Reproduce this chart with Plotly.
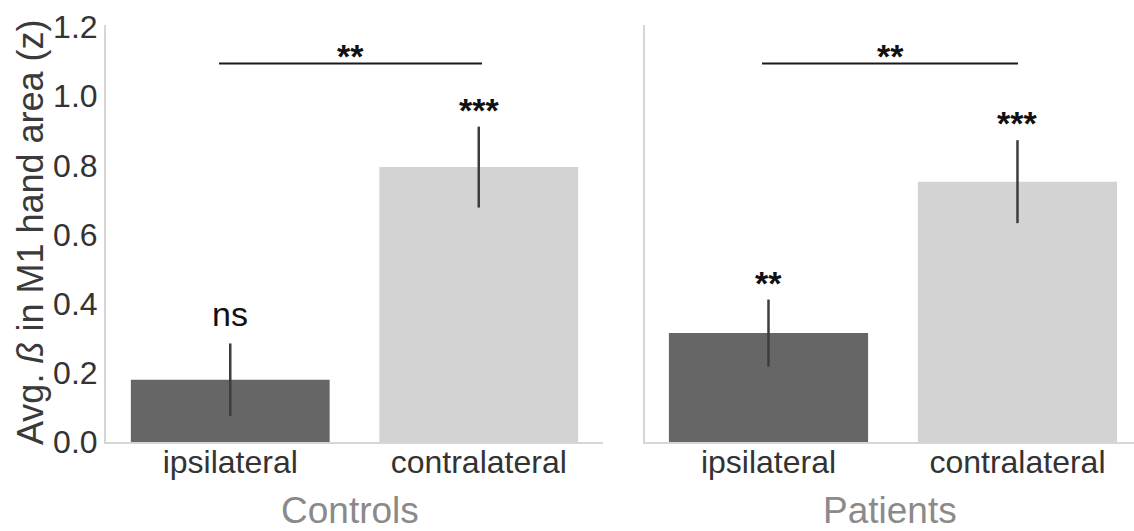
import plotly.graph_objects as go

# ---- data ----
categories = ["ipsilateral", "contralateral"]
groups = ["Controls", "Patients"]
controls_mean = [0.18, 0.795]
controls_err = [0.105, 0.117]
patients_mean = [0.315, 0.753]
patients_err = [0.097, 0.12]
controls_sig = ["ns", "***"]
patients_sig = ["**", "***"]
bracket_labels = ["**", "**"]
bracket_levels = [1.095, 1.095]
y_tickvals = [0.0, 0.2, 0.4, 0.6, 0.8, 1.0, 1.2]
y_ticktext = ["0.0", "0.2", "0.4", "0.6", "0.8", "1.0", "1.2"]
bar_colors = ["#666666", "#d3d3d3"]

W, H = 1134, 531
FONT = "Liberation Sans, Arial, Helvetica, sans-serif"

def fx(p):
    return p / W

def fy(p):
    return 1 - p / H

fig = go.Figure()

for i, (means, errs) in enumerate([(controls_mean, controls_err), (patients_mean, patients_err)]):
    fig.add_trace(go.Bar(
        x=categories, y=means,
        marker=dict(color=bar_colors, line=dict(width=0)),
        error_y=dict(type="data", array=errs, visible=True, color="#3d3d3d",
                     thickness=2.5, width=0),
        xaxis="x" if i == 0 else "x2", yaxis="y" if i == 0 else "y2",
        showlegend=False, hoverinfo="skip",
    ))

axis_common = dict(showgrid=False, zeroline=False, showline=True, linecolor="#d6d6d6",
                   linewidth=2, ticks="", fixedrange=True)

fig.update_layout(
    width=W, height=H,
    margin=dict(l=0, r=0, t=0, b=0),
    paper_bgcolor="white", plot_bgcolor="white",
    bargap=0.2,
    font=dict(family=FONT, color="#333333"),
    xaxis=dict(domain=[fx(106), fx(603)], range=[-0.5, 1.5], type="category",
               tickfont=dict(size=32, color="#333333"), ticklabelstandoff=-9,
               automargin=False, **axis_common),
    xaxis2=dict(domain=[fx(645), 1.0], range=[-0.496, 1.468], type="category",
                tickfont=dict(size=32, color="#333333"), ticklabelstandoff=-9,
                automargin=False, anchor="y2", **axis_common),
    yaxis=dict(domain=[fy(442), fy(25)], range=[0, 1.206], tickvals=y_tickvals,
               ticktext=y_ticktext, tickfont=dict(size=32, color="#333333"),
               automargin=False, anchor="x", **axis_common),
    yaxis2=dict(domain=[fy(442), fy(25)], range=[0, 1.206], showticklabels=False,
                automargin=False, anchor="x2", **axis_common),
)

STAR_FONT = dict(size=34, color="#111111", family=FONT, weight="bold")

# significance brackets
bracket_x = [(-0.045, 1.013), (-0.026, 1.002)]
for k, (xr, yr) in enumerate([("x", "y"), ("x2", "y2")]):
    x0, x1 = bracket_x[k]
    fig.add_shape(type="line", xref=xr, yref=yr, x0=x0, x1=x1,
                  y0=bracket_levels[k], y1=bracket_levels[k],
                  line=dict(color="#1a1a1a", width=2))
    fig.add_annotation(xref=xr, yref=yr, x=(x0 + x1) / 2, y=bracket_levels[k],
                       text=bracket_labels[k], showarrow=False, yanchor="bottom",
                       yshift=-14, font=STAR_FONT)

# per-bar significance
for (xr, yr), means, errs, sigs in [(("x", "y"), controls_mean, controls_err, controls_sig),
                                    (("x2", "y2"), patients_mean, patients_err, patients_sig)]:
    for j in range(len(categories)):
        s = sigs[j]
        top = means[j] + errs[j]
        if s == "ns":
            fig.add_annotation(xref=xr, yref=yr, x=categories[j], y=top, text=s,
                               showarrow=False, yanchor="bottom", yshift=8,
                               font=dict(size=34, color="#111111", family=FONT))
        else:
            fig.add_annotation(xref=xr, yref=yr, x=categories[j], y=top, text=s,
                               showarrow=False, yanchor="bottom", yshift=-4,
                               font=STAR_FONT)

# group titles
for name, cx in zip(groups, [350, 890]):
    fig.add_annotation(xref="paper", yref="paper", x=fx(cx), y=fy(510), text=name,
                       showarrow=False, xanchor="center", yanchor="middle",
                       font=dict(size=37, color="#8a8a8a", family=FONT))

# y title
fig.add_annotation(xref="paper", yref="paper", x=fx(30), y=fy(232), text="Avg. <i>ß</i> in M1 hand area (z)",
                   showarrow=False, textangle=-90, xanchor="center", yanchor="middle",
                   font=dict(size=36, color="#3a3a3a", family=FONT))

fig.write_html("out.html")
